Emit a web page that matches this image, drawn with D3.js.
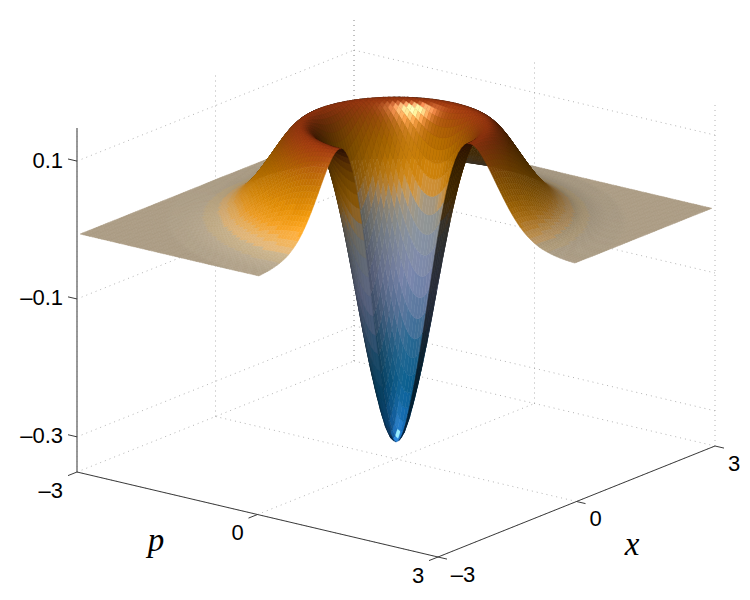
<!DOCTYPE html>
<html>
<head>
<meta charset="utf-8">
<style>
  html, body { margin: 0; background: #fff; }
  svg { display: block; }
  text { font-family: "Liberation Sans", Arial, sans-serif; font-size: 22px; fill: #000; }
  .axlabel { font-family: "Liberation Serif", serif; font-style: italic; font-size: 33px; }
</style>
<script src="https://cdn.jsdelivr.net/npm/d3@7"></script>
</head>
<body>
<svg id="chart" width="750" height="600"></svg>
<script>
"use strict";
// height of the surface, every 0.125 of radius from the centre
const radiusStep = 0.125;
const profile = [
  -0.333, -0.313, -0.262, -0.201, -0.128, -0.052, 0.016, 0.071, 0.109,
  0.129, 0.134, 0.125, 0.109, 0.089, 0.069, 0.05, 0.034, 0.021, 0.012,
  0.005, 0.001, -0.002, -0.004, -0.005, -0.006,
];
const xTicks = [-3, 0, 3];
const pTicks = [-3, 0, 3];
const zTicks = [-0.3, -0.1, 0.1];
const xDomain = [-3, 3];
const pDomain = [-3, 3];
const zDomain = [-0.351, 0.148];
const surfaceEdge = 2.97;
const colorZ = [-0.32, -0.25, -0.2, -0.15, -0.1, -0.05, -0.02, -0.006, 0.005, 0.01, 0.02, 0.03, 0.05, 0.08, 0.1, 0.125, 0.135];
const colorHex = ["#1a78d0", "#0c6aa0", "#2a75a5", "#6588b5", "#8e9cc8", "#9aa6b8", "#a8aaa5", "#b7aa94", "#c4ac84", "#d6ae74", "#e2a650", "#ea9a24", "#e08c06", "#c47600", "#b46206", "#a04010", "#943210"];

const fmt = (v) => (v < 0 ? "\u2013" : "") + Math.abs(v);

const svg = d3.select("#chart");
const xUnit = d3.scaleLinear().domain(xDomain).range([-1, 1]);
const pUnit = d3.scaleLinear().domain(pDomain).range([-1, 1]);
const zPx = d3.scaleLinear().domain(zDomain).range([0, 344]);

function project(x, p, z) {
  return [
    396 + xUnit(x) * 138.5 + pUnit(p) * 180.5,
    459 - xUnit(x) * 55.5 + pUnit(p) * 42.5 - zPx(z),
  ];
}

// --- view and light, worked out from the floor corners
const right = [0.609, 0.793, 0];
const away = [0.793, -0.609, 0];
const cosEl = 0.951, sinEl = 0.307;
const zStretch = 9.567;
const norm = (v) => { const l = Math.hypot(...v); return v.map((d) => d / l); };
const dot = (a, b) => a[0] * b[0] + a[1] * b[1] + a[2] * b[2];
const viewDir = [-away[0] * cosEl, -away[1] * cosEl, sinEl];
const lightDir = norm([
  -right[0] * 0.3 - away[0] * 0.5,
  -right[1] * 0.3 - away[1] * 0.5,
  0.75,
]);
const halfDir = norm(viewDir.map((d, i) => d + lightDir[i]));

// --- colour: smooth along the dip, visible bands only around the foot of the ridge
const colorLine = d3.scaleLinear().domain(colorZ).range(colorHex).interpolate(d3.interpolateRgb);
const bandWidth = 0.455 / 64;
function colorAt(z) {
  if (z < -0.01 || z > 0.06) return d3.rgb(colorLine(z));
  return d3.rgb(colorLine((Math.floor(z / bandWidth) + 0.5) * bandWidth));
}

// --- surface
const mirrored = profile.slice(1).reverse().concat(profile);
const heightAt = d3.interpolateBasis(mirrored);
const maxR = radiusStep * (profile.length - 1);
function surfaceZ(x, p) {
  const r = Math.min(Math.hypot(x, p), maxR);
  return heightAt((r + maxR) / (2 * maxR));
}

const cells = 60;
const gridVals = d3.range(-cells, cells + 1).map((i) => (i * surfaceEdge) / cells);
const faces = [];
for (let i = 0; i < gridVals.length - 1; i++) {
  for (let j = 0; j < gridVals.length - 1; j++) {
    const x0 = gridVals[i], x1 = gridVals[i + 1];
    const p0 = gridVals[j], p1 = gridVals[j + 1];
    // front quadrant is cut away
    if (x0 < -1e-9 && p1 > 1e-9) continue;
    const z00 = surfaceZ(x0, p0), z10 = surfaceZ(x1, p0), z11 = surfaceZ(x1, p1), z01 = surfaceZ(x0, p1);
    const a = [x1 - x0, p1 - p0, (z11 - z00) * zStretch];
    const b = [x0 - x1, p1 - p0, (z01 - z10) * zStretch];
    let n = norm([a[1] * b[2] - a[2] * b[1], a[2] * b[0] - a[0] * b[2], a[0] * b[1] - a[1] * b[0]]);
    if (n[2] < 0) n = n.map((d) => -d);
    if (dot(n, viewDir) < 0) n = n.map((d) => -d); // seen from below, light the other side
    const zMid = (z00 + z10 + z11 + z01) / 4;
    const xMid = (x0 + x1) / 2, pMid = (p0 + p1) / 2;
    const base = colorAt(zMid);
    const diff = Math.max(0, dot(n, lightDir));
    const spec = Math.pow(Math.max(0, dot(n, halfDir)), 45) * 0.85;
    const k = 0.28 + 0.8 * diff;
    const col = d3.rgb(base.r * k + 255 * spec, base.g * k + 235 * spec, base.b * k + 205 * spec);
    faces.push({
      depth: cosEl * (away[0] * xMid + away[1] * pMid) - sinEl * zStretch * zMid,
      pts: [project(x0, p0, z00), project(x1, p0, z10), project(x1, p1, z11), project(x0, p1, z01)],
      fill: col.formatHex(),
    });
  }
}
faces.sort((a, b) => b.depth - a.depth);

// --- dotted grid on floor and back walls
const gridLines = [];
const zBottom = zDomain[0], zTop = zDomain[1];
xTicks.forEach((x) => {
  gridLines.push([project(x, -3, zBottom), project(x, 3, zBottom)]);
  gridLines.push([project(x, -3, zBottom), project(x, -3, zTop)]);
});
pTicks.forEach((p) => {
  gridLines.push([project(-3, p, zBottom), project(3, p, zBottom)]);
  gridLines.push([project(3, p, zBottom), project(3, p, zTop)]);
});
zTicks.forEach((z) => {
  gridLines.push([project(-3, -3, z), project(3, -3, z)]);
  gridLines.push([project(3, -3, z), project(3, 3, z)]);
});

const line = d3.line();
svg.append("g").selectAll("path").data(gridLines).join("path")
  .attr("d", (d) => line(d))
  .attr("fill", "none")
  .attr("stroke", "#a0a0a0")
  .attr("stroke-width", 0.8)
  .attr("stroke-dasharray", "1 4");

svg.append("g").selectAll("path").data(faces).join("path")
  .attr("d", (d) => line(d.pts) + "Z")
  .attr("fill", (d) => d.fill)
  .attr("stroke", (d) => d.fill)
  .attr("stroke-width", 0.5)
  .attr("stroke-linejoin", "round");

// --- axes
const axes = svg.append("g").attr("fill", "none");
axes.append("path").attr("d", line([project(-3, -3, zBottom), project(-3, -3, zTop)])).attr("stroke", "#808080").attr("stroke-width", 1.6);
axes.append("path").attr("d", line([project(-3, -3, zBottom), project(-3, 3, zBottom)])).attr("stroke", "#3c3c3c").attr("stroke-width", 1);
axes.append("path").attr("d", line([project(-3, 3, zBottom), project(3, 3, zBottom)])).attr("stroke", "#3c3c3c").attr("stroke-width", 1);

const tickStroke = (sel) => sel.attr("stroke", "#3c3c3c").attr("stroke-width", 1);
pTicks.forEach((p) => {
  const a = project(-3, p, zBottom);
  axes.append("path").attr("d", line([a, [a[0] - 9, a[1] + 3.6]])).call(tickStroke);
});
xTicks.forEach((x) => {
  const a = project(x, 3, zBottom);
  axes.append("path").attr("d", line([a, [a[0] + 9, a[1] + 2.1]])).call(tickStroke);
});
zTicks.forEach((z) => {
  const a = project(-3, -3, z);
  axes.append("path").attr("d", line([a, [a[0] - 9, a[1] - 2.1]])).call(tickStroke);
});

// --- labels
const labels = svg.append("g");
zTicks.forEach((z) => {
  const a = project(-3, -3, z);
  labels.append("text").attr("x", a[0] - 14).attr("y", a[1] - 1).attr("text-anchor", "end").attr("dominant-baseline", "central").text(fmt(z));
});
labels.selectAll(".ptick").data(pTicks).join("text")
  .attr("class", "ptick")
  .attr("x", (d) => project(-3, d, zBottom)[0] + (d === -3 ? -14 : -20))
  .attr("y", (d) => project(-3, d, zBottom)[1] + 18)
  .attr("text-anchor", (d) => (d === -3 ? "end" : "middle"))
  .attr("dominant-baseline", "central")
  .text(fmt);
labels.selectAll(".xtick").data(xTicks).join("text")
  .attr("class", "xtick")
  .attr("x", (d) => project(d, 3, zBottom)[0] + (d === -3 ? 25 : 19))
  .attr("y", (d) => project(d, 3, zBottom)[1] + 17)
  .attr("text-anchor", "middle")
  .attr("dominant-baseline", "central")
  .text(fmt);
labels.append("text").attr("class", "axlabel").attr("x", 156).attr("y", 551).attr("text-anchor", "middle").text("p");
labels.append("text").attr("class", "axlabel").attr("x", 632).attr("y", 555).attr("text-anchor", "middle").text("x");
</script>
</body>
</html>
